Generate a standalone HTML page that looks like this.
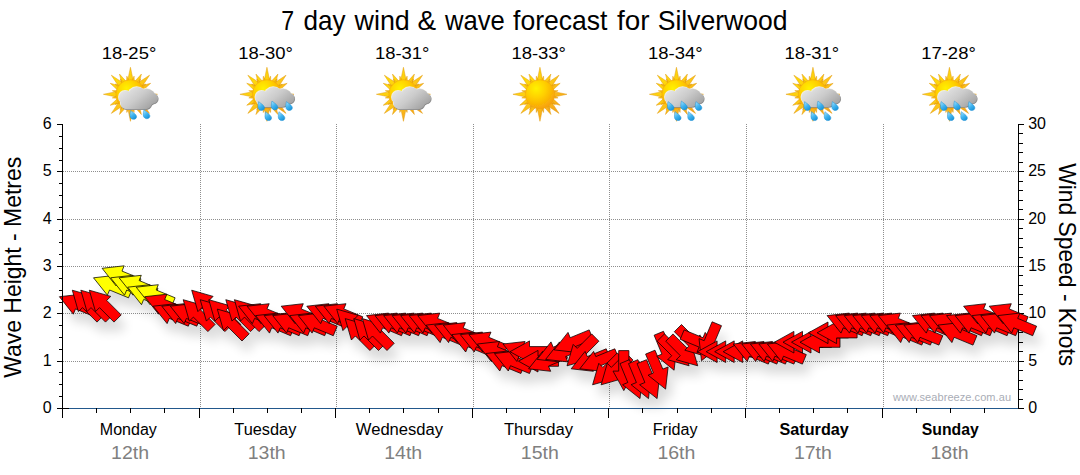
<!DOCTYPE html><html><head><meta charset="utf-8"><title>7 day wind &amp; wave forecast</title>
<style>html,body{margin:0;padding:0;background:#fff}body{width:1080px;height:475px;overflow:hidden;font-family:"Liberation Sans",sans-serif}svg{display:block}text{font-family:"Liberation Sans",sans-serif}</style></head><body>
<svg width="1080" height="475" viewBox="0 0 1080 475">
<rect width="1080" height="475" fill="#fff"/>
<text x="281.34" y="29.7" font-size="27.4" fill="#000" textLength="12.89" lengthAdjust="spacingAndGlyphs">7</text>
<text x="303.46" y="29.7" font-size="27.4" fill="#000" textLength="42.05" lengthAdjust="spacingAndGlyphs">day</text>
<text x="354.50" y="29.7" font-size="27.4" fill="#000" textLength="55.28" lengthAdjust="spacingAndGlyphs">wind</text>
<text x="417.64" y="29.7" font-size="27.4" fill="#000" textLength="18.62" lengthAdjust="spacingAndGlyphs">&amp;</text>
<text x="445.00" y="29.7" font-size="27.4" fill="#000" textLength="59.77" lengthAdjust="spacingAndGlyphs">wave</text>
<text x="513.00" y="29.7" font-size="27.4" fill="#000" textLength="94.51" lengthAdjust="spacingAndGlyphs">forecast</text>
<text x="617.00" y="29.7" font-size="27.4" fill="#000" textLength="32.52" lengthAdjust="spacingAndGlyphs">for</text>
<text x="657.72" y="29.7" font-size="27.4" fill="#000" textLength="129.81" lengthAdjust="spacingAndGlyphs">Silverwood</text>
<path d="M200.5 124V408M336.5 124V408M473.5 124V408M609.5 124V408M746.5 124V408M883.5 124V408M63 361.5H1018M63 313.5H1018M63 266.5H1018M63 219.5H1018M63 171.5H1018" stroke="#8e8e8e" stroke-width="1" stroke-dasharray="1 1" fill="none" shape-rendering="crispEdges"/>
<path d="M1018.5 124V409M1018 408.5H1024M1018 361.5H1024M1018 313.5H1024M1018 266.5H1024M1018 219.5H1024M1018 171.5H1024M1018 124.5H1024M1018 399.5H1023M1018 389.5H1023M1018 380.5H1023M1018 370.5H1023M1018 351.5H1023M1018 342.5H1023M1018 332.5H1023M1018 323.5H1023M1018 304.5H1023M1018 294.5H1023M1018 285.5H1023M1018 275.5H1023M1018 257.5H1023M1018 247.5H1023M1018 238.5H1023M1018 228.5H1023M1018 209.5H1023M1018 200.5H1023M1018 190.5H1023M1018 181.5H1023M1018 162.5H1023M1018 152.5H1023M1018 143.5H1023M1018 133.5H1023" stroke="#000" stroke-width="1" fill="none" shape-rendering="crispEdges"/>
<text x="1028.2" y="412.8" font-size="16" text-anchor="start" fill="#000">0</text>
<text x="1028.2" y="365.5" font-size="16" text-anchor="start" fill="#000">5</text>
<text x="1028.2" y="318.1" font-size="16" text-anchor="start" fill="#000">10</text>
<text x="1028.2" y="270.8" font-size="16" text-anchor="start" fill="#000">15</text>
<text x="1028.2" y="223.5" font-size="16" text-anchor="start" fill="#000">20</text>
<text x="1028.2" y="176.1" font-size="16" text-anchor="start" fill="#000">25</text>
<text x="1028.2" y="128.8" font-size="16" text-anchor="start" fill="#000">30</text>
<text x="893" y="400.8" font-size="11" fill="#a9adb6" textLength="118" lengthAdjust="spacing">www.seabreeze.com.au</text>
<defs><filter id="sh" x="-5%" y="-30%" width="110%" height="170%"><feGaussianBlur in="SourceAlpha" stdDeviation="5.5"/><feOffset dx="4.5" dy="10.5" result="b"/><feComponentTransfer><feFuncA type="linear" slope="0.15"/></feComponentTransfer></filter></defs>
<g filter="url(#sh)" fill="#000">
<polygon points="59.4,296.7 81.6,294.2 79.4,299.5 98.3,307.3 94.4,316.7 75.5,308.9 73.3,314.2"/>
<polygon points="72.3,290.2 93.7,296.4 89.7,300.4 104.2,314.9 97.0,322.1 82.5,307.6 78.4,311.6"/>
<polygon points="80.8,290.2 102.2,296.4 98.2,300.4 112.7,314.9 105.5,322.1 91.0,307.6 87.0,311.6"/>
<polygon points="89.3,290.2 110.8,296.4 106.7,300.4 121.2,314.9 114.0,322.1 99.5,307.6 95.5,311.6"/>
<polygon points="93.5,277.8 115.7,275.3 113.5,280.5 132.4,288.4 128.5,297.8 109.6,290.0 107.4,295.2"/>
<polygon points="102.1,268.3 124.2,265.8 122.0,271.1 141.0,278.9 137.1,288.3 118.1,280.5 116.0,285.8"/>
<polygon points="110.6,277.8 132.7,275.3 130.6,280.5 149.5,288.4 145.6,297.8 126.7,290.0 124.5,295.2"/>
<polygon points="119.1,277.8 141.3,275.3 139.1,280.5 158.0,288.4 154.1,297.8 135.2,290.0 133.0,295.2"/>
<polygon points="127.7,287.2 149.8,284.7 147.6,290.0 166.6,297.8 162.7,307.3 143.7,299.4 141.5,304.7"/>
<polygon points="136.2,287.2 158.3,284.7 156.2,290.0 175.1,297.8 171.2,307.3 152.3,299.4 150.1,304.7"/>
<polygon points="144.7,296.7 166.9,294.2 164.7,299.5 183.6,307.3 179.7,316.7 160.8,308.9 158.6,314.2"/>
<polygon points="153.2,306.2 175.4,303.7 173.2,308.9 192.2,316.8 188.3,326.2 169.3,318.4 167.1,323.6"/>
<polygon points="161.8,306.2 183.9,303.7 181.7,308.9 200.7,316.8 196.8,326.2 177.8,318.4 175.7,323.6"/>
<polygon points="170.3,306.2 192.5,303.7 190.3,308.9 209.2,316.8 205.3,326.2 186.4,318.4 184.2,323.6"/>
<polygon points="183.2,299.7 204.6,305.8 200.6,309.9 215.1,324.4 207.9,331.6 193.4,317.1 189.3,321.1"/>
<polygon points="191.7,290.2 213.1,296.4 209.1,300.4 223.6,314.9 216.4,322.1 201.9,307.6 197.9,311.6"/>
<polygon points="200.2,299.7 221.7,305.8 217.6,309.9 232.1,324.4 224.9,331.6 210.4,317.1 206.4,321.1"/>
<polygon points="208.8,299.7 230.2,305.8 226.2,309.9 240.7,324.4 233.4,331.6 219.0,317.1 214.9,321.1"/>
<polygon points="217.3,309.1 238.7,315.3 234.7,319.3 249.2,333.8 242.0,341.0 227.5,326.5 223.5,330.6"/>
<polygon points="225.8,299.7 247.3,305.8 243.2,309.9 257.7,324.4 250.5,331.6 236.0,317.1 232.0,321.1"/>
<polygon points="234.4,299.7 255.8,305.8 251.8,309.9 266.3,324.4 259.0,331.6 244.5,317.1 240.5,321.1"/>
<polygon points="238.6,306.2 260.7,303.7 258.5,308.9 277.5,316.8 273.6,326.2 254.6,318.4 252.4,323.6"/>
<polygon points="247.1,306.2 269.2,303.7 267.0,308.9 286.0,316.8 282.1,326.2 263.1,318.4 261.0,323.6"/>
<polygon points="255.6,315.6 277.8,313.1 275.6,318.4 294.5,326.2 290.6,335.7 271.7,327.8 269.5,333.1"/>
<polygon points="264.1,315.6 286.3,313.1 284.1,318.4 303.0,326.2 299.1,335.7 280.2,327.8 278.0,333.1"/>
<polygon points="272.7,315.6 294.8,313.1 292.6,318.4 311.6,326.2 307.7,335.7 288.7,327.8 286.6,333.1"/>
<polygon points="281.2,306.2 303.3,303.7 301.2,308.9 320.1,316.8 316.2,326.2 297.3,318.4 295.1,323.6"/>
<polygon points="289.7,315.6 311.9,313.1 309.7,318.4 328.6,326.2 324.7,335.7 305.8,327.8 303.6,333.1"/>
<polygon points="298.3,315.6 320.4,313.1 318.2,318.4 337.2,326.2 333.3,335.7 314.3,327.8 312.1,333.1"/>
<polygon points="306.8,306.2 328.9,303.7 326.8,308.9 345.7,316.8 341.8,326.2 322.9,318.4 320.7,323.6"/>
<polygon points="315.3,306.2 337.5,303.7 335.3,308.9 354.2,316.8 350.3,326.2 331.4,318.4 329.2,323.6"/>
<polygon points="323.9,306.2 346.0,303.7 343.8,308.9 362.8,316.8 358.9,326.2 339.9,318.4 337.7,323.6"/>
<polygon points="336.7,309.1 358.1,315.3 354.1,319.3 368.6,333.8 361.4,341.0 346.9,326.5 342.9,330.6"/>
<polygon points="345.2,318.6 366.7,324.8 362.6,328.8 377.1,343.3 369.9,350.5 355.4,336.0 351.4,340.0"/>
<polygon points="353.8,318.6 375.2,324.8 371.2,328.8 385.7,343.3 378.5,350.5 364.0,336.0 359.9,340.0"/>
<polygon points="362.3,318.6 383.7,324.8 379.7,328.8 394.2,343.3 387.0,350.5 372.5,336.0 368.5,340.0"/>
<polygon points="366.5,315.6 388.6,313.1 386.5,318.4 405.4,326.2 401.5,335.7 382.6,327.8 380.4,333.1"/>
<polygon points="375.0,315.6 397.2,313.1 395.0,318.4 413.9,326.2 410.0,335.7 391.1,327.8 388.9,333.1"/>
<polygon points="383.6,315.6 405.7,313.1 403.5,318.4 422.5,326.2 418.6,335.7 399.6,327.8 397.4,333.1"/>
<polygon points="392.1,315.6 414.2,313.1 412.1,318.4 431.0,326.2 427.1,335.7 408.2,327.8 406.0,333.1"/>
<polygon points="400.6,315.6 422.8,313.1 420.6,318.4 439.5,326.2 435.6,335.7 416.7,327.8 414.5,333.1"/>
<polygon points="409.1,315.6 431.3,313.1 429.1,318.4 448.1,326.2 444.2,335.7 425.2,327.8 423.0,333.1"/>
<polygon points="417.7,315.6 439.8,313.1 437.6,318.4 456.6,326.2 452.7,335.7 433.7,327.8 431.6,333.1"/>
<polygon points="426.2,325.1 448.4,322.6 446.2,327.9 465.1,335.7 461.2,345.1 442.3,337.3 440.1,342.6"/>
<polygon points="434.7,325.1 456.9,322.6 454.7,327.9 473.6,335.7 469.7,345.1 450.8,337.3 448.6,342.6"/>
<polygon points="443.3,325.1 465.4,322.6 463.2,327.9 482.2,335.7 478.3,345.1 459.3,337.3 457.2,342.6"/>
<polygon points="451.8,334.6 473.9,332.1 471.8,337.3 490.7,345.2 486.8,354.6 467.9,346.8 465.7,352.0"/>
<polygon points="460.3,334.6 482.5,332.1 480.3,337.3 499.2,345.2 495.3,354.6 476.4,346.8 474.2,352.0"/>
<polygon points="468.9,334.6 491.0,332.1 488.8,337.3 507.8,345.2 503.9,354.6 484.9,346.8 482.7,352.0"/>
<polygon points="477.4,344.0 499.5,341.5 497.4,346.8 516.3,354.6 512.4,364.1 493.5,356.2 491.3,361.5"/>
<polygon points="485.9,353.5 508.1,351.0 505.9,356.3 524.8,364.1 520.9,373.5 502.0,365.7 499.8,371.0"/>
<polygon points="494.4,353.5 516.6,351.0 514.4,356.3 533.4,364.1 529.5,373.5 510.5,365.7 508.3,371.0"/>
<polygon points="503.0,344.0 525.1,341.5 522.9,346.8 541.9,354.6 538.0,364.1 519.0,356.2 516.9,361.5"/>
<polygon points="510.0,351.7 529.5,340.9 529.5,346.6 550.0,346.6 550.0,356.8 529.5,356.8 529.5,362.5"/>
<polygon points="518.5,361.2 538.0,350.4 538.0,356.1 558.5,356.1 558.5,366.3 538.0,366.3 538.0,372.0"/>
<polygon points="528.6,368.8 542.5,351.4 544.6,356.6 563.6,348.8 567.5,358.2 548.5,366.1 550.7,371.3"/>
<polygon points="537.1,359.4 551.0,341.9 553.2,347.2 572.1,339.3 576.0,348.8 557.1,356.6 559.2,361.9"/>
<polygon points="545.6,359.4 559.5,341.9 561.7,347.2 580.6,339.3 584.5,348.8 565.6,356.6 567.8,361.9"/>
<polygon points="554.2,349.9 568.0,332.4 570.2,337.7 589.2,329.9 593.1,339.3 574.1,347.1 576.3,352.4"/>
<polygon points="567.0,365.8 573.2,344.4 577.2,348.4 591.7,333.9 598.9,341.2 584.4,355.7 588.5,359.7"/>
<polygon points="571.2,368.8 585.1,351.4 587.3,356.6 606.2,348.8 610.1,358.2 591.2,366.1 593.4,371.3"/>
<polygon points="579.8,368.8 593.6,351.4 595.8,356.6 614.8,348.8 618.7,358.2 599.7,366.1 601.9,371.3"/>
<polygon points="592.6,384.8 598.8,363.3 602.8,367.4 617.3,352.9 624.5,360.1 610.0,374.6 614.0,378.6"/>
<polygon points="601.1,384.8 607.3,363.3 611.3,367.4 625.8,352.9 633.0,360.1 618.5,374.6 622.6,378.6"/>
<polygon points="623.8,390.6 613.0,371.1 618.7,371.1 618.7,350.6 628.9,350.6 628.9,371.1 634.6,371.1"/>
<polygon points="640.0,398.6 622.6,384.7 627.8,382.5 620.0,363.6 629.4,359.7 637.2,378.6 642.5,376.4"/>
<polygon points="648.5,398.6 631.1,384.7 636.4,382.5 628.5,363.6 637.9,359.7 645.8,378.6 651.0,376.4"/>
<polygon points="657.1,398.6 639.6,384.7 644.9,382.5 637.0,363.6 646.5,359.7 654.3,378.6 659.6,376.4"/>
<polygon points="665.6,389.1 648.1,375.2 653.4,373.0 645.6,354.1 655.0,350.2 662.8,369.1 668.1,367.0"/>
<polygon points="674.1,370.2 656.7,356.3 661.9,354.1 654.1,335.2 663.5,331.3 671.4,350.2 676.6,348.0"/>
<polygon points="689.1,365.8 667.7,359.7 671.7,355.7 657.2,341.2 664.5,333.9 679.0,348.4 683.0,344.4"/>
<polygon points="697.7,365.8 676.2,359.7 680.3,355.7 665.8,341.2 673.0,333.9 687.5,348.4 691.5,344.4"/>
<polygon points="706.2,356.4 684.8,350.2 688.8,346.2 674.3,331.7 681.5,324.5 696.0,339.0 700.0,334.9"/>
<polygon points="719.1,349.9 696.9,352.4 699.1,347.1 680.2,339.3 684.1,329.9 703.0,337.7 705.2,332.4"/>
<polygon points="701.5,360.7 699.0,338.6 704.2,340.7 712.1,321.8 721.5,325.7 713.6,344.6 718.9,346.8"/>
<polygon points="697.6,351.7 717.1,340.9 717.1,346.6 737.6,346.6 737.6,356.8 717.1,356.8 717.1,362.5"/>
<polygon points="706.2,351.7 725.7,340.9 725.7,346.6 746.2,346.6 746.2,356.8 725.7,356.8 725.7,362.5"/>
<polygon points="714.7,351.7 734.2,340.9 734.2,346.6 754.7,346.6 754.7,356.8 734.2,356.8 734.2,362.5"/>
<polygon points="723.2,351.7 742.7,340.9 742.7,346.6 763.2,346.6 763.2,356.8 742.7,356.8 742.7,362.5"/>
<polygon points="733.3,344.0 755.4,341.5 753.3,346.8 772.2,354.6 768.3,364.1 749.4,356.2 747.2,361.5"/>
<polygon points="741.8,344.0 764.0,341.5 761.8,346.8 780.7,354.6 776.8,364.1 757.9,356.2 755.7,361.5"/>
<polygon points="750.4,344.0 772.5,341.5 770.3,346.8 789.3,354.6 785.4,364.1 766.4,356.2 764.2,361.5"/>
<polygon points="758.9,344.0 781.0,341.5 778.8,346.8 797.8,354.6 793.9,364.1 774.9,356.2 772.8,361.5"/>
<polygon points="767.4,344.0 789.6,341.5 787.4,346.8 806.3,354.6 802.4,364.1 783.5,356.2 781.3,361.5"/>
<polygon points="774.4,342.2 793.9,331.4 793.9,337.1 814.4,337.1 814.4,347.3 793.9,347.3 793.9,353.0"/>
<polygon points="783.0,342.2 802.5,331.4 802.5,337.1 823.0,337.1 823.0,347.3 802.5,347.3 802.5,353.0"/>
<polygon points="791.5,342.2 811.0,331.4 811.0,337.1 831.5,337.1 831.5,347.3 811.0,347.3 811.0,353.0"/>
<polygon points="800.0,342.2 819.5,331.4 819.5,337.1 840.0,337.1 840.0,347.3 819.5,347.3 819.5,353.0"/>
<polygon points="808.5,332.8 828.0,322.0 828.0,327.7 848.5,327.7 848.5,337.9 828.0,337.9 828.0,343.6"/>
<polygon points="817.1,332.8 836.6,322.0 836.6,327.7 857.1,327.7 857.1,337.9 836.6,337.9 836.6,343.6"/>
<polygon points="827.1,315.6 849.3,313.1 847.1,318.4 866.0,326.2 862.1,335.7 843.2,327.8 841.0,333.1"/>
<polygon points="835.6,315.6 857.8,313.1 855.6,318.4 874.6,326.2 870.7,335.7 851.7,327.8 849.5,333.1"/>
<polygon points="844.2,315.6 866.3,313.1 864.1,318.4 883.1,326.2 879.2,335.7 860.2,327.8 858.1,333.1"/>
<polygon points="852.7,315.6 874.9,313.1 872.7,318.4 891.6,326.2 887.7,335.7 868.8,327.8 866.6,333.1"/>
<polygon points="861.2,315.6 883.4,313.1 881.2,318.4 900.1,326.2 896.2,335.7 877.3,327.8 875.1,333.1"/>
<polygon points="869.8,315.6 891.9,313.1 889.7,318.4 908.7,326.2 904.8,335.7 885.8,327.8 883.7,333.1"/>
<polygon points="878.3,315.6 900.4,313.1 898.3,318.4 917.2,326.2 913.3,335.7 894.4,327.8 892.2,333.1"/>
<polygon points="886.8,325.1 909.0,322.6 906.8,327.9 925.7,335.7 921.8,345.1 902.9,337.3 900.7,342.6"/>
<polygon points="895.4,325.1 917.5,322.6 915.3,327.9 934.3,335.7 930.4,345.1 911.4,337.3 909.2,342.6"/>
<polygon points="903.9,325.1 926.0,322.6 923.9,327.9 942.8,335.7 938.9,345.1 920.0,337.3 917.8,342.6"/>
<polygon points="912.4,315.6 934.6,313.1 932.4,318.4 951.3,326.2 947.4,335.7 928.5,327.8 926.3,333.1"/>
<polygon points="921.0,315.6 943.1,313.1 940.9,318.4 959.9,326.2 956.0,335.7 937.0,327.8 934.8,333.1"/>
<polygon points="929.5,315.6 951.6,313.1 949.4,318.4 968.4,326.2 964.5,335.7 945.5,327.8 943.4,333.1"/>
<polygon points="938.0,325.1 960.2,322.6 958.0,327.9 976.9,335.7 973.0,345.1 954.1,337.3 951.9,342.6"/>
<polygon points="946.5,315.6 968.7,313.1 966.5,318.4 985.4,326.2 981.5,335.7 962.6,327.8 960.4,333.1"/>
<polygon points="955.1,315.6 977.2,313.1 975.0,318.4 994.0,326.2 990.1,335.7 971.1,327.8 969.0,333.1"/>
<polygon points="963.6,306.2 985.7,303.7 983.6,308.9 1002.5,316.8 998.6,326.2 979.7,318.4 977.5,323.6"/>
<polygon points="972.1,315.6 994.3,313.1 992.1,318.4 1011.0,326.2 1007.1,335.7 988.2,327.8 986.0,333.1"/>
<polygon points="980.7,315.6 1002.8,313.1 1000.6,318.4 1019.6,326.2 1015.7,335.7 996.7,327.8 994.5,333.1"/>
<polygon points="989.2,306.2 1011.3,303.7 1009.2,308.9 1028.1,316.8 1024.2,326.2 1005.3,318.4 1003.1,323.6"/>
<polygon points="997.7,315.6 1019.9,313.1 1017.7,318.4 1036.6,326.2 1032.7,335.7 1013.8,327.8 1011.6,333.1"/>
</g>
<g stroke="#000" stroke-width="0.75" stroke-linejoin="miter">
<polygon points="59.4,296.7 81.6,294.2 79.4,299.5 98.3,307.3 94.4,316.7 75.5,308.9 73.3,314.2" fill="#ff0000"/>
<polygon points="72.3,290.2 93.7,296.4 89.7,300.4 104.2,314.9 97.0,322.1 82.5,307.6 78.4,311.6" fill="#ff0000"/>
<polygon points="80.8,290.2 102.2,296.4 98.2,300.4 112.7,314.9 105.5,322.1 91.0,307.6 87.0,311.6" fill="#ff0000"/>
<polygon points="89.3,290.2 110.8,296.4 106.7,300.4 121.2,314.9 114.0,322.1 99.5,307.6 95.5,311.6" fill="#ff0000"/>
<polygon points="93.5,277.8 115.7,275.3 113.5,280.5 132.4,288.4 128.5,297.8 109.6,290.0 107.4,295.2" fill="#ffff00"/>
<polygon points="102.1,268.3 124.2,265.8 122.0,271.1 141.0,278.9 137.1,288.3 118.1,280.5 116.0,285.8" fill="#ffff00"/>
<polygon points="110.6,277.8 132.7,275.3 130.6,280.5 149.5,288.4 145.6,297.8 126.7,290.0 124.5,295.2" fill="#ffff00"/>
<polygon points="119.1,277.8 141.3,275.3 139.1,280.5 158.0,288.4 154.1,297.8 135.2,290.0 133.0,295.2" fill="#ffff00"/>
<polygon points="127.7,287.2 149.8,284.7 147.6,290.0 166.6,297.8 162.7,307.3 143.7,299.4 141.5,304.7" fill="#ffff00"/>
<polygon points="136.2,287.2 158.3,284.7 156.2,290.0 175.1,297.8 171.2,307.3 152.3,299.4 150.1,304.7" fill="#ffff00"/>
<polygon points="144.7,296.7 166.9,294.2 164.7,299.5 183.6,307.3 179.7,316.7 160.8,308.9 158.6,314.2" fill="#ff0000"/>
<polygon points="153.2,306.2 175.4,303.7 173.2,308.9 192.2,316.8 188.3,326.2 169.3,318.4 167.1,323.6" fill="#ff0000"/>
<polygon points="161.8,306.2 183.9,303.7 181.7,308.9 200.7,316.8 196.8,326.2 177.8,318.4 175.7,323.6" fill="#ff0000"/>
<polygon points="170.3,306.2 192.5,303.7 190.3,308.9 209.2,316.8 205.3,326.2 186.4,318.4 184.2,323.6" fill="#ff0000"/>
<polygon points="183.2,299.7 204.6,305.8 200.6,309.9 215.1,324.4 207.9,331.6 193.4,317.1 189.3,321.1" fill="#ff0000"/>
<polygon points="191.7,290.2 213.1,296.4 209.1,300.4 223.6,314.9 216.4,322.1 201.9,307.6 197.9,311.6" fill="#ff0000"/>
<polygon points="200.2,299.7 221.7,305.8 217.6,309.9 232.1,324.4 224.9,331.6 210.4,317.1 206.4,321.1" fill="#ff0000"/>
<polygon points="208.8,299.7 230.2,305.8 226.2,309.9 240.7,324.4 233.4,331.6 219.0,317.1 214.9,321.1" fill="#ff0000"/>
<polygon points="217.3,309.1 238.7,315.3 234.7,319.3 249.2,333.8 242.0,341.0 227.5,326.5 223.5,330.6" fill="#ff0000"/>
<polygon points="225.8,299.7 247.3,305.8 243.2,309.9 257.7,324.4 250.5,331.6 236.0,317.1 232.0,321.1" fill="#ff0000"/>
<polygon points="234.4,299.7 255.8,305.8 251.8,309.9 266.3,324.4 259.0,331.6 244.5,317.1 240.5,321.1" fill="#ff0000"/>
<polygon points="238.6,306.2 260.7,303.7 258.5,308.9 277.5,316.8 273.6,326.2 254.6,318.4 252.4,323.6" fill="#ff0000"/>
<polygon points="247.1,306.2 269.2,303.7 267.0,308.9 286.0,316.8 282.1,326.2 263.1,318.4 261.0,323.6" fill="#ff0000"/>
<polygon points="255.6,315.6 277.8,313.1 275.6,318.4 294.5,326.2 290.6,335.7 271.7,327.8 269.5,333.1" fill="#ff0000"/>
<polygon points="264.1,315.6 286.3,313.1 284.1,318.4 303.0,326.2 299.1,335.7 280.2,327.8 278.0,333.1" fill="#ff0000"/>
<polygon points="272.7,315.6 294.8,313.1 292.6,318.4 311.6,326.2 307.7,335.7 288.7,327.8 286.6,333.1" fill="#ff0000"/>
<polygon points="281.2,306.2 303.3,303.7 301.2,308.9 320.1,316.8 316.2,326.2 297.3,318.4 295.1,323.6" fill="#ff0000"/>
<polygon points="289.7,315.6 311.9,313.1 309.7,318.4 328.6,326.2 324.7,335.7 305.8,327.8 303.6,333.1" fill="#ff0000"/>
<polygon points="298.3,315.6 320.4,313.1 318.2,318.4 337.2,326.2 333.3,335.7 314.3,327.8 312.1,333.1" fill="#ff0000"/>
<polygon points="306.8,306.2 328.9,303.7 326.8,308.9 345.7,316.8 341.8,326.2 322.9,318.4 320.7,323.6" fill="#ff0000"/>
<polygon points="315.3,306.2 337.5,303.7 335.3,308.9 354.2,316.8 350.3,326.2 331.4,318.4 329.2,323.6" fill="#ff0000"/>
<polygon points="323.9,306.2 346.0,303.7 343.8,308.9 362.8,316.8 358.9,326.2 339.9,318.4 337.7,323.6" fill="#ff0000"/>
<polygon points="336.7,309.1 358.1,315.3 354.1,319.3 368.6,333.8 361.4,341.0 346.9,326.5 342.9,330.6" fill="#ff0000"/>
<polygon points="345.2,318.6 366.7,324.8 362.6,328.8 377.1,343.3 369.9,350.5 355.4,336.0 351.4,340.0" fill="#ff0000"/>
<polygon points="353.8,318.6 375.2,324.8 371.2,328.8 385.7,343.3 378.5,350.5 364.0,336.0 359.9,340.0" fill="#ff0000"/>
<polygon points="362.3,318.6 383.7,324.8 379.7,328.8 394.2,343.3 387.0,350.5 372.5,336.0 368.5,340.0" fill="#ff0000"/>
<polygon points="366.5,315.6 388.6,313.1 386.5,318.4 405.4,326.2 401.5,335.7 382.6,327.8 380.4,333.1" fill="#ff0000"/>
<polygon points="375.0,315.6 397.2,313.1 395.0,318.4 413.9,326.2 410.0,335.7 391.1,327.8 388.9,333.1" fill="#ff0000"/>
<polygon points="383.6,315.6 405.7,313.1 403.5,318.4 422.5,326.2 418.6,335.7 399.6,327.8 397.4,333.1" fill="#ff0000"/>
<polygon points="392.1,315.6 414.2,313.1 412.1,318.4 431.0,326.2 427.1,335.7 408.2,327.8 406.0,333.1" fill="#ff0000"/>
<polygon points="400.6,315.6 422.8,313.1 420.6,318.4 439.5,326.2 435.6,335.7 416.7,327.8 414.5,333.1" fill="#ff0000"/>
<polygon points="409.1,315.6 431.3,313.1 429.1,318.4 448.1,326.2 444.2,335.7 425.2,327.8 423.0,333.1" fill="#ff0000"/>
<polygon points="417.7,315.6 439.8,313.1 437.6,318.4 456.6,326.2 452.7,335.7 433.7,327.8 431.6,333.1" fill="#ff0000"/>
<polygon points="426.2,325.1 448.4,322.6 446.2,327.9 465.1,335.7 461.2,345.1 442.3,337.3 440.1,342.6" fill="#ff0000"/>
<polygon points="434.7,325.1 456.9,322.6 454.7,327.9 473.6,335.7 469.7,345.1 450.8,337.3 448.6,342.6" fill="#ff0000"/>
<polygon points="443.3,325.1 465.4,322.6 463.2,327.9 482.2,335.7 478.3,345.1 459.3,337.3 457.2,342.6" fill="#ff0000"/>
<polygon points="451.8,334.6 473.9,332.1 471.8,337.3 490.7,345.2 486.8,354.6 467.9,346.8 465.7,352.0" fill="#ff0000"/>
<polygon points="460.3,334.6 482.5,332.1 480.3,337.3 499.2,345.2 495.3,354.6 476.4,346.8 474.2,352.0" fill="#ff0000"/>
<polygon points="468.9,334.6 491.0,332.1 488.8,337.3 507.8,345.2 503.9,354.6 484.9,346.8 482.7,352.0" fill="#ff0000"/>
<polygon points="477.4,344.0 499.5,341.5 497.4,346.8 516.3,354.6 512.4,364.1 493.5,356.2 491.3,361.5" fill="#ff0000"/>
<polygon points="485.9,353.5 508.1,351.0 505.9,356.3 524.8,364.1 520.9,373.5 502.0,365.7 499.8,371.0" fill="#ff0000"/>
<polygon points="494.4,353.5 516.6,351.0 514.4,356.3 533.4,364.1 529.5,373.5 510.5,365.7 508.3,371.0" fill="#ff0000"/>
<polygon points="503.0,344.0 525.1,341.5 522.9,346.8 541.9,354.6 538.0,364.1 519.0,356.2 516.9,361.5" fill="#ff0000"/>
<polygon points="510.0,351.7 529.5,340.9 529.5,346.6 550.0,346.6 550.0,356.8 529.5,356.8 529.5,362.5" fill="#ff0000"/>
<polygon points="518.5,361.2 538.0,350.4 538.0,356.1 558.5,356.1 558.5,366.3 538.0,366.3 538.0,372.0" fill="#ff0000"/>
<polygon points="528.6,368.8 542.5,351.4 544.6,356.6 563.6,348.8 567.5,358.2 548.5,366.1 550.7,371.3" fill="#ff0000"/>
<polygon points="537.1,359.4 551.0,341.9 553.2,347.2 572.1,339.3 576.0,348.8 557.1,356.6 559.2,361.9" fill="#ff0000"/>
<polygon points="545.6,359.4 559.5,341.9 561.7,347.2 580.6,339.3 584.5,348.8 565.6,356.6 567.8,361.9" fill="#ff0000"/>
<polygon points="554.2,349.9 568.0,332.4 570.2,337.7 589.2,329.9 593.1,339.3 574.1,347.1 576.3,352.4" fill="#ff0000"/>
<polygon points="567.0,365.8 573.2,344.4 577.2,348.4 591.7,333.9 598.9,341.2 584.4,355.7 588.5,359.7" fill="#ff0000"/>
<polygon points="571.2,368.8 585.1,351.4 587.3,356.6 606.2,348.8 610.1,358.2 591.2,366.1 593.4,371.3" fill="#ff0000"/>
<polygon points="579.8,368.8 593.6,351.4 595.8,356.6 614.8,348.8 618.7,358.2 599.7,366.1 601.9,371.3" fill="#ff0000"/>
<polygon points="592.6,384.8 598.8,363.3 602.8,367.4 617.3,352.9 624.5,360.1 610.0,374.6 614.0,378.6" fill="#ff0000"/>
<polygon points="601.1,384.8 607.3,363.3 611.3,367.4 625.8,352.9 633.0,360.1 618.5,374.6 622.6,378.6" fill="#ff0000"/>
<polygon points="623.8,390.6 613.0,371.1 618.7,371.1 618.7,350.6 628.9,350.6 628.9,371.1 634.6,371.1" fill="#ff0000"/>
<polygon points="640.0,398.6 622.6,384.7 627.8,382.5 620.0,363.6 629.4,359.7 637.2,378.6 642.5,376.4" fill="#ff0000"/>
<polygon points="648.5,398.6 631.1,384.7 636.4,382.5 628.5,363.6 637.9,359.7 645.8,378.6 651.0,376.4" fill="#ff0000"/>
<polygon points="657.1,398.6 639.6,384.7 644.9,382.5 637.0,363.6 646.5,359.7 654.3,378.6 659.6,376.4" fill="#ff0000"/>
<polygon points="665.6,389.1 648.1,375.2 653.4,373.0 645.6,354.1 655.0,350.2 662.8,369.1 668.1,367.0" fill="#ff0000"/>
<polygon points="674.1,370.2 656.7,356.3 661.9,354.1 654.1,335.2 663.5,331.3 671.4,350.2 676.6,348.0" fill="#ff0000"/>
<polygon points="689.1,365.8 667.7,359.7 671.7,355.7 657.2,341.2 664.5,333.9 679.0,348.4 683.0,344.4" fill="#ff0000"/>
<polygon points="697.7,365.8 676.2,359.7 680.3,355.7 665.8,341.2 673.0,333.9 687.5,348.4 691.5,344.4" fill="#ff0000"/>
<polygon points="706.2,356.4 684.8,350.2 688.8,346.2 674.3,331.7 681.5,324.5 696.0,339.0 700.0,334.9" fill="#ff0000"/>
<polygon points="719.1,349.9 696.9,352.4 699.1,347.1 680.2,339.3 684.1,329.9 703.0,337.7 705.2,332.4" fill="#ff0000"/>
<polygon points="701.5,360.7 699.0,338.6 704.2,340.7 712.1,321.8 721.5,325.7 713.6,344.6 718.9,346.8" fill="#ff0000"/>
<polygon points="697.6,351.7 717.1,340.9 717.1,346.6 737.6,346.6 737.6,356.8 717.1,356.8 717.1,362.5" fill="#ff0000"/>
<polygon points="706.2,351.7 725.7,340.9 725.7,346.6 746.2,346.6 746.2,356.8 725.7,356.8 725.7,362.5" fill="#ff0000"/>
<polygon points="714.7,351.7 734.2,340.9 734.2,346.6 754.7,346.6 754.7,356.8 734.2,356.8 734.2,362.5" fill="#ff0000"/>
<polygon points="723.2,351.7 742.7,340.9 742.7,346.6 763.2,346.6 763.2,356.8 742.7,356.8 742.7,362.5" fill="#ff0000"/>
<polygon points="733.3,344.0 755.4,341.5 753.3,346.8 772.2,354.6 768.3,364.1 749.4,356.2 747.2,361.5" fill="#ff0000"/>
<polygon points="741.8,344.0 764.0,341.5 761.8,346.8 780.7,354.6 776.8,364.1 757.9,356.2 755.7,361.5" fill="#ff0000"/>
<polygon points="750.4,344.0 772.5,341.5 770.3,346.8 789.3,354.6 785.4,364.1 766.4,356.2 764.2,361.5" fill="#ff0000"/>
<polygon points="758.9,344.0 781.0,341.5 778.8,346.8 797.8,354.6 793.9,364.1 774.9,356.2 772.8,361.5" fill="#ff0000"/>
<polygon points="767.4,344.0 789.6,341.5 787.4,346.8 806.3,354.6 802.4,364.1 783.5,356.2 781.3,361.5" fill="#ff0000"/>
<polygon points="774.4,342.2 793.9,331.4 793.9,337.1 814.4,337.1 814.4,347.3 793.9,347.3 793.9,353.0" fill="#ff0000"/>
<polygon points="783.0,342.2 802.5,331.4 802.5,337.1 823.0,337.1 823.0,347.3 802.5,347.3 802.5,353.0" fill="#ff0000"/>
<polygon points="791.5,342.2 811.0,331.4 811.0,337.1 831.5,337.1 831.5,347.3 811.0,347.3 811.0,353.0" fill="#ff0000"/>
<polygon points="800.0,342.2 819.5,331.4 819.5,337.1 840.0,337.1 840.0,347.3 819.5,347.3 819.5,353.0" fill="#ff0000"/>
<polygon points="808.5,332.8 828.0,322.0 828.0,327.7 848.5,327.7 848.5,337.9 828.0,337.9 828.0,343.6" fill="#ff0000"/>
<polygon points="817.1,332.8 836.6,322.0 836.6,327.7 857.1,327.7 857.1,337.9 836.6,337.9 836.6,343.6" fill="#ff0000"/>
<polygon points="827.1,315.6 849.3,313.1 847.1,318.4 866.0,326.2 862.1,335.7 843.2,327.8 841.0,333.1" fill="#ff0000"/>
<polygon points="835.6,315.6 857.8,313.1 855.6,318.4 874.6,326.2 870.7,335.7 851.7,327.8 849.5,333.1" fill="#ff0000"/>
<polygon points="844.2,315.6 866.3,313.1 864.1,318.4 883.1,326.2 879.2,335.7 860.2,327.8 858.1,333.1" fill="#ff0000"/>
<polygon points="852.7,315.6 874.9,313.1 872.7,318.4 891.6,326.2 887.7,335.7 868.8,327.8 866.6,333.1" fill="#ff0000"/>
<polygon points="861.2,315.6 883.4,313.1 881.2,318.4 900.1,326.2 896.2,335.7 877.3,327.8 875.1,333.1" fill="#ff0000"/>
<polygon points="869.8,315.6 891.9,313.1 889.7,318.4 908.7,326.2 904.8,335.7 885.8,327.8 883.7,333.1" fill="#ff0000"/>
<polygon points="878.3,315.6 900.4,313.1 898.3,318.4 917.2,326.2 913.3,335.7 894.4,327.8 892.2,333.1" fill="#ff0000"/>
<polygon points="886.8,325.1 909.0,322.6 906.8,327.9 925.7,335.7 921.8,345.1 902.9,337.3 900.7,342.6" fill="#ff0000"/>
<polygon points="895.4,325.1 917.5,322.6 915.3,327.9 934.3,335.7 930.4,345.1 911.4,337.3 909.2,342.6" fill="#ff0000"/>
<polygon points="903.9,325.1 926.0,322.6 923.9,327.9 942.8,335.7 938.9,345.1 920.0,337.3 917.8,342.6" fill="#ff0000"/>
<polygon points="912.4,315.6 934.6,313.1 932.4,318.4 951.3,326.2 947.4,335.7 928.5,327.8 926.3,333.1" fill="#ff0000"/>
<polygon points="921.0,315.6 943.1,313.1 940.9,318.4 959.9,326.2 956.0,335.7 937.0,327.8 934.8,333.1" fill="#ff0000"/>
<polygon points="929.5,315.6 951.6,313.1 949.4,318.4 968.4,326.2 964.5,335.7 945.5,327.8 943.4,333.1" fill="#ff0000"/>
<polygon points="938.0,325.1 960.2,322.6 958.0,327.9 976.9,335.7 973.0,345.1 954.1,337.3 951.9,342.6" fill="#ff0000"/>
<polygon points="946.5,315.6 968.7,313.1 966.5,318.4 985.4,326.2 981.5,335.7 962.6,327.8 960.4,333.1" fill="#ff0000"/>
<polygon points="955.1,315.6 977.2,313.1 975.0,318.4 994.0,326.2 990.1,335.7 971.1,327.8 969.0,333.1" fill="#ff0000"/>
<polygon points="963.6,306.2 985.7,303.7 983.6,308.9 1002.5,316.8 998.6,326.2 979.7,318.4 977.5,323.6" fill="#ff0000"/>
<polygon points="972.1,315.6 994.3,313.1 992.1,318.4 1011.0,326.2 1007.1,335.7 988.2,327.8 986.0,333.1" fill="#ff0000"/>
<polygon points="980.7,315.6 1002.8,313.1 1000.6,318.4 1019.6,326.2 1015.7,335.7 996.7,327.8 994.5,333.1" fill="#ff0000"/>
<polygon points="989.2,306.2 1011.3,303.7 1009.2,308.9 1028.1,316.8 1024.2,326.2 1005.3,318.4 1003.1,323.6" fill="#ff0000"/>
<polygon points="997.7,315.6 1019.9,313.1 1017.7,318.4 1036.6,326.2 1032.7,335.7 1013.8,327.8 1011.6,333.1" fill="#ff0000"/>
</g>
<path d="M63 408.5H1018" stroke="#22588c" stroke-width="1" fill="none" shape-rendering="crispEdges"/>
<path d="M57 408.5H69" stroke="#000" stroke-width="1" fill="none" shape-rendering="crispEdges"/>
<path d="M62.5 124V418M57 408.5H63M57 361.5H63M57 313.5H63M57 266.5H63M57 219.5H63M57 171.5H63M57 124.5H63M59 396.5H63M59 384.5H63M59 372.5H63M59 349.5H63M59 337.5H63M59 325.5H63M59 302.5H63M59 290.5H63M59 278.5H63M59 254.5H63M59 242.5H63M59 230.5H63M59 207.5H63M59 195.5H63M59 183.5H63M59 160.5H63M59 148.5H63M59 136.5H63M96.5 408V413M130.5 408V413M164.5 408V413M199.5 408V418M233.5 408V413M267.5 408V413M301.5 408V413M335.5 408V418M369.5 408V413M403.5 408V413M438.5 408V413M472.5 408V418M506.5 408V413M540.5 408V413M574.5 408V413M608.5 408V418M642.5 408V413M677.5 408V413M711.5 408V413M745.5 408V418M779.5 408V413M813.5 408V413M847.5 408V413M882.5 408V418M916.5 408V413M950.5 408V413M984.5 408V413" stroke="#000" stroke-width="1" fill="none" shape-rendering="crispEdges"/>
<text x="51.6" y="412.9" font-size="16" text-anchor="end" fill="#000">0</text>
<text x="51.6" y="365.6" font-size="16" text-anchor="end" fill="#000">1</text>
<text x="51.6" y="318.2" font-size="16" text-anchor="end" fill="#000">2</text>
<text x="51.6" y="270.9" font-size="16" text-anchor="end" fill="#000">3</text>
<text x="51.6" y="223.6" font-size="16" text-anchor="end" fill="#000">4</text>
<text x="51.6" y="176.2" font-size="16" text-anchor="end" fill="#000">5</text>
<text x="51.6" y="128.9" font-size="16" text-anchor="end" fill="#000">6</text>
<text transform="translate(20.8,377.8) rotate(-90)" font-size="24" fill="#000" textLength="221" lengthAdjust="spacingAndGlyphs">Wave Height - Metres</text>
<text transform="translate(1058.9,163.2) rotate(90)" font-size="24" fill="#000" textLength="203" lengthAdjust="spacingAndGlyphs">Wind Speed - Knots</text>
<text x="99.8" y="434.8" font-size="16" fill="#000" textLength="57" lengthAdjust="spacingAndGlyphs">Monday</text>
<text x="111.1" y="458.6" font-size="18" fill="#808080" textLength="38" lengthAdjust="spacingAndGlyphs">12th</text>
<text x="101.7" y="59.1" font-size="17" fill="#000" textLength="54.6" lengthAdjust="spacingAndGlyphs">18-25°</text>
<text x="234.3" y="434.8" font-size="16" fill="#000" textLength="62" lengthAdjust="spacingAndGlyphs">Tuesday</text>
<text x="247.7" y="458.6" font-size="18" fill="#808080" textLength="38" lengthAdjust="spacingAndGlyphs">13th</text>
<text x="238.3" y="59.1" font-size="17" fill="#000" textLength="54.6" lengthAdjust="spacingAndGlyphs">18-30°</text>
<text x="355.8" y="434.8" font-size="16" fill="#000" textLength="87.3" lengthAdjust="spacingAndGlyphs">Wednesday</text>
<text x="384.2" y="458.6" font-size="18" fill="#808080" textLength="38" lengthAdjust="spacingAndGlyphs">14th</text>
<text x="374.9" y="59.1" font-size="17" fill="#000" textLength="54.6" lengthAdjust="spacingAndGlyphs">18-31°</text>
<text x="503.9" y="434.8" font-size="16" fill="#000" textLength="69.1" lengthAdjust="spacingAndGlyphs">Thursday</text>
<text x="520.8" y="458.6" font-size="18" fill="#808080" textLength="38" lengthAdjust="spacingAndGlyphs">15th</text>
<text x="511.4" y="59.1" font-size="17" fill="#000" textLength="54.6" lengthAdjust="spacingAndGlyphs">18-33°</text>
<text x="652.7" y="434.8" font-size="16" fill="#000" textLength="44.8" lengthAdjust="spacingAndGlyphs">Friday</text>
<text x="657.4" y="458.6" font-size="18" fill="#808080" textLength="38" lengthAdjust="spacingAndGlyphs">16th</text>
<text x="648.0" y="59.1" font-size="17" fill="#000" textLength="54.6" lengthAdjust="spacingAndGlyphs">18-34°</text>
<text x="779.5" y="434.8" font-size="16" fill="#000" font-weight="bold" textLength="69.3" lengthAdjust="spacingAndGlyphs">Saturday</text>
<text x="793.9" y="458.6" font-size="18" fill="#808080" textLength="38" lengthAdjust="spacingAndGlyphs">17th</text>
<text x="784.6" y="59.1" font-size="17" fill="#000" textLength="54.6" lengthAdjust="spacingAndGlyphs">18-31°</text>
<text x="921.8" y="434.8" font-size="16" fill="#000" font-weight="bold" textLength="57" lengthAdjust="spacingAndGlyphs">Sunday</text>
<text x="930.5" y="458.6" font-size="18" fill="#808080" textLength="38" lengthAdjust="spacingAndGlyphs">18th</text>
<text x="921.2" y="59.1" font-size="17" fill="#000" textLength="54.6" lengthAdjust="spacingAndGlyphs">17-28°</text>
<defs>
<radialGradient id="sg" cx="0.37" cy="0.30" r="0.72"><stop offset="0" stop-color="#fff200"/><stop offset="0.45" stop-color="#ffd000"/><stop offset="1" stop-color="#f7a10a"/></radialGradient>
<linearGradient id="rg" gradientUnits="userSpaceOnUse" x1="-20" y1="-20" x2="20" y2="22"><stop offset="0" stop-color="#ffe100"/><stop offset="0.5" stop-color="#fcc417"/><stop offset="1" stop-color="#f59e1c"/></linearGradient>
<linearGradient id="cg" gradientUnits="userSpaceOnUse" x1="-4" y1="-8" x2="16" y2="17"><stop offset="0" stop-color="#e6e6e6"/><stop offset="0.5" stop-color="#cbcbcb"/><stop offset="1" stop-color="#a2a2a2"/></linearGradient>
<linearGradient id="dg" x1="0.2" y1="0" x2="0.8" y2="1"><stop offset="0" stop-color="#9fe0ff"/><stop offset="0.5" stop-color="#3fb4f0"/><stop offset="1" stop-color="#168fd6"/></linearGradient>
<filter id="ib" x="-20%" y="-20%" width="140%" height="140%"><feGaussianBlur stdDeviation="0.35"/></filter>
<g id="sun"><path d="M3.61 -18.14L3.91 -12.99L1.36 -13.49ZM10.28 -15.38L8.58 -10.50L6.42 -11.95ZM15.38 -10.28L11.95 -6.42L10.50 -8.58ZM18.14 -3.61L13.49 -1.36L12.99 -3.91ZM18.14 3.61L12.99 3.91L13.49 1.36ZM15.38 10.28L10.50 8.58L11.95 6.42ZM10.28 15.38L6.42 11.95L8.58 10.50ZM3.61 18.14L1.36 13.49L3.91 12.99ZM-3.61 18.14L-3.91 12.99L-1.36 13.49ZM-10.28 15.38L-8.58 10.50L-6.42 11.95ZM-15.38 10.28L-11.95 6.42L-10.50 8.58ZM-18.14 3.61L-13.49 1.36L-12.99 3.91ZM-18.14 -3.61L-12.99 -3.91L-13.49 -1.36ZM-15.38 -10.28L-10.50 -8.58L-11.95 -6.42ZM-10.28 -15.38L-6.42 -11.95L-8.58 -10.50ZM-3.61 -18.14L-1.36 -13.49L-3.91 -12.99ZM0.00 -27.00L2.90 -13.00L-2.90 -13.00ZM10.97 -20.21L8.40 -10.23L4.01 -12.62ZM19.09 -19.09L11.24 -7.14L7.14 -11.24ZM20.21 -10.97L12.62 -4.01L10.23 -8.40ZM27.00 -0.00L13.00 2.90L13.00 -2.90ZM20.21 10.97L10.23 8.40L12.62 4.01ZM19.09 19.09L7.14 11.24L11.24 7.14ZM10.97 20.21L4.01 12.62L8.40 10.23ZM0.00 27.00L-2.90 13.00L2.90 13.00ZM-10.97 20.21L-8.40 10.23L-4.01 12.62ZM-19.09 19.09L-11.24 7.14L-7.14 11.24ZM-20.21 10.97L-12.62 4.01L-10.23 8.40ZM-27.00 0.00L-13.00 -2.90L-13.00 2.90ZM-20.21 -10.97L-10.23 -8.40L-12.62 -4.01ZM-19.09 -19.09L-7.14 -11.24L-11.24 -7.14ZM-10.97 -20.21L-4.01 -12.62L-8.40 -10.23Z" fill="url(#rg)" stroke="#e39b10" stroke-width="0.5" stroke-linejoin="round"/><circle r="14.6" fill="url(#sg)" stroke="#f0a010" stroke-width="0.5"/></g>
<g id="cl"><circle cx="-4.6" cy="3.4" r="7.0"/><circle cx="7.0" cy="2.7" r="9.9"/><circle cx="16.3" cy="3.2" r="8.7"/><circle cx="22.3" cy="3.9" r="5.3"/><rect x="-9.8" y="4" width="30.8" height="10.9" rx="6.5"/></g>
<g id="cl2"><circle cx="-4.6" cy="3.4" r="7.0"/><circle cx="7.0" cy="2.7" r="9.9"/><circle cx="16.3" cy="3.2" r="8.7"/><circle cx="22.3" cy="3.9" r="5.3"/><rect x="-9.8" y="2" width="30.8" height="10.6" rx="6"/></g>
<g id="cloud2"><use href="#cl2" transform="translate(0.5,0.8)" fill="#8a8a8a"/><use href="#cl2" transform="translate(-0.8,-0.8)" fill="#f2efdf"/><use href="#cl2" fill="url(#cg)"/></g>
<g id="cloud"><use href="#cl" transform="translate(0.5,0.8)" fill="#8a8a8a"/><use href="#cl" transform="translate(-0.8,-0.8)" fill="#f2efdf"/><use href="#cl" fill="url(#cg)"/></g>
<path id="drop" d="M-2.3-4.5C-0.3-2.7 3.8-0.6 3.6 2.0C3.4 4.4 0.5 5.0-1.4 3.8C-3.5 2.5-3.2-0.6-2.3-4.5Z" fill="url(#dg)" stroke="#1c8fd2" stroke-width="0.5"/>
</defs>
<g transform="translate(130.45,94.3)" filter="url(#ib)">
<use href="#sun"/>
<use href="#cloud"/>
<use href="#drop" x="2.5" y="20.6"/>
<use href="#drop" x="15.8" y="20.0"/>
</g>
<g transform="translate(266.95,94.3)" filter="url(#ib)">
<use href="#sun"/>
<use href="#cloud2"/>
<use href="#drop" x="-6.0" y="11.8"/>
<use href="#drop" x="7.3" y="11.2"/>
<use href="#drop" x="21.8" y="11.8"/>
<use href="#drop" x="1.0" y="21.9"/>
<use href="#drop" x="14.3" y="21.9"/>
</g>
<g transform="translate(403.45,94.3)" filter="url(#ib)">
<use href="#sun"/>
<use href="#cloud"/>
</g>
<g transform="translate(539.95,94.3)" filter="url(#ib)">
<use href="#sun"/>
</g>
<g transform="translate(676.45,94.3)" filter="url(#ib)">
<use href="#sun"/>
<use href="#cloud2"/>
<use href="#drop" x="-6.0" y="11.8"/>
<use href="#drop" x="7.3" y="11.2"/>
<use href="#drop" x="21.8" y="11.8"/>
<use href="#drop" x="1.0" y="21.9"/>
<use href="#drop" x="14.3" y="21.9"/>
</g>
<g transform="translate(812.95,94.3)" filter="url(#ib)">
<use href="#sun"/>
<use href="#cloud2"/>
<use href="#drop" x="-6.0" y="11.8"/>
<use href="#drop" x="7.3" y="11.2"/>
<use href="#drop" x="21.8" y="11.8"/>
<use href="#drop" x="1.0" y="21.9"/>
<use href="#drop" x="14.3" y="21.9"/>
</g>
<g transform="translate(949.45,94.3)" filter="url(#ib)">
<use href="#sun"/>
<use href="#cloud2"/>
<use href="#drop" x="-6.0" y="11.8"/>
<use href="#drop" x="7.3" y="11.2"/>
<use href="#drop" x="21.8" y="11.8"/>
<use href="#drop" x="1.0" y="21.9"/>
<use href="#drop" x="14.3" y="21.9"/>
</g>
</svg></body></html>
